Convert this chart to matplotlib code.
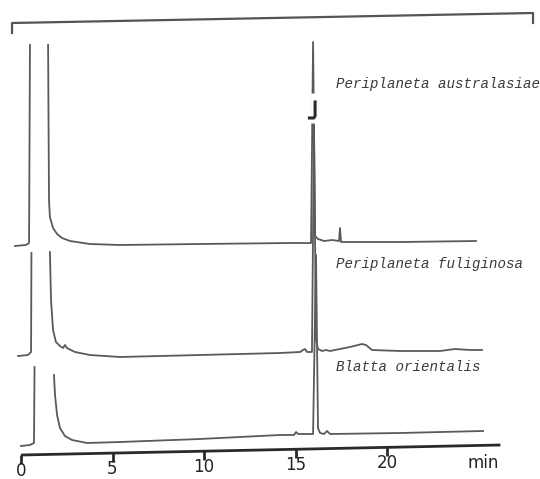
import numpy as np
import matplotlib
matplotlib.use("Agg")
import matplotlib.pyplot as plt

nan = np.nan

# retention time (min) and detector signal (chart mm above baseline), NaN = pen off scale
t_aus = [-0.33, 0.27, 0.44, 0.49, nan, 1.48, 1.53, 1.58, 1.75, 1.97, 2.24, 2.68, 3.77, 5.41, 9.78,
         14.70, 15.85, 15.96, 16.07, 16.23, 16.56, 17.0, 17.38, 17.43, 17.49, 20.71, 24.86]
s_aus = [-3, -2, 0, 198, nan, 198, 43, 26, 15, 9, 5, 2, -1, -2, -1,
         0, 0, 201, 7, 4, 2, 3, 2, 15, 1, 1, 2]

t_ful = [-0.16, 0.38, 0.55, 0.57, nan, 1.58, 1.64, 1.75, 1.91, 2.13, 2.30, 2.40, 2.51, 2.95, 3.77,
         5.41, 9.78, 14.15, 15.25, 15.41, 15.52, 15.63, 15.90, 16.01, 16.12, 16.23, 16.45, 16.67,
         16.89, 17.43, 17.98, 18.63, 18.85, 19.18, 20.71, 22.90, 23.72, 24.54, 25.19]
s_ful = [-3, -2, 1, 100, nan, 101, 53, 23, 11, 7, 5, 8, 5, 1, -2,
         -4, -2, 0, 1, 3, 4, 1, 1, 228, 13, 4, 2, 3,
         2, 4, 6, 9, 8, 3, 2, 2, 4, 3, 3]

t_bla = [0.0, 0.49, 0.71, 0.74, nan, 1.80, 1.86, 1.97, 2.13, 2.40, 2.79, 3.61, 5.41, 9.78,
         14.15, 14.92, 15.03, 15.14, 15.96, 16.12, 16.23, 16.34, 16.56, 16.72, 16.89, 20.71, 25.25]
s_bla = [-9, -8, -6, 70, nan, 62, 42, 22, 9, 1, -3, -6, -5, -2,
         2, 2, 5, 3, 3, 182, 9, 4, 3, 6, 3, 4, 6]

names = ["Periplaneta australasiae", "Periplaneta fuliginosa", "Blatta orientalis"]
offsets = [236, 126, 42]
label_y = [395, 215, 112]

ticks = [0, 5, 10, 15, 20]

fig = plt.figure(figsize=(5.4, 4.79), dpi=100)
ax = fig.add_axes([0, 0, 1, 1])
ax.set_xlim(-21 / 18.3, 519 / 18.3)
ax.set_ylim(0, 479)
ax.axis("off")

trace_col = "#5a5a5a"
for t, s, off in zip([t_aus, t_ful, t_bla], [s_aus, s_ful, s_bla], offsets):
    ax.plot(t, np.array(s, dtype=float) + off, color=trace_col, lw=1.3, solid_joinstyle="round")

# gap and hook mark on the top trace main peak
ax.plot([15.96, 15.96], [356, 386], color="white", lw=3.5, solid_capstyle="butt", zorder=3)
ax.plot([16.07, 16.07, 16.0, 15.76], [377, 363, 361, 361], color="#2a2a2a", lw=2.2, zorder=4)

for name, ly in zip(names, label_y):
    ax.text(17.2, ly, name, fontsize=10.2, family="Liberation Mono", style="italic",
            color="#3a3a3a", va="center", ha="left")

# time axis (slightly tilted as in the scan)
slope = 10 / 26.2
t_end = 26.2
ax.plot([0, t_end], [24, 24 + slope * t_end], color="#2a2a2a", lw=2.0, solid_capstyle="butt")
for tk in ticks:
    y0 = 24 + slope * tk
    ax.plot([tk, tk], [y0, y0 - 9], color="#2a2a2a", lw=2.0, solid_capstyle="butt")
    ax.text(tk, y0 - 16, str(tk), fontsize=12, ha="center", va="center", color="#222222")
ax.text(25.25, 16, "min", fontsize=12, ha="center", va="center", color="#222222")

# bracket at the top
bx = [-0.49, -0.49, 27.98, 27.98]
by = [446, 456, 466, 456]
ax.plot(bx, by, color="#555555", lw=1.6)

fig.savefig("out.png", dpi=100)
